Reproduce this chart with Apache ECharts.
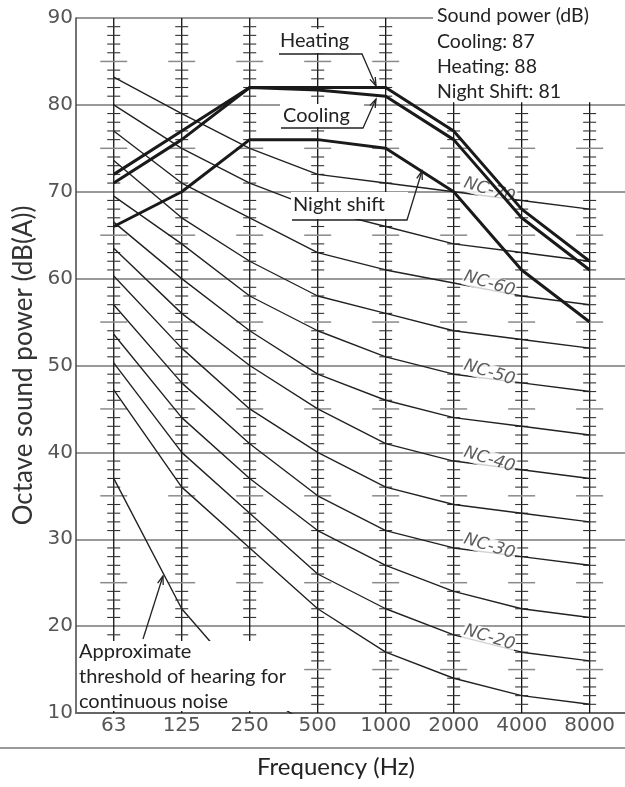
<!DOCTYPE html>
<html>
<head>
<meta charset="utf-8">
<script src="https://cdn.jsdelivr.net/npm/echarts@6.0.0/dist/echarts.min.js"></script>
<style>
  html, body { margin: 0; padding: 0; background: #fff; }
  #chart { width: 625px; height: 787px; }
</style>
</head>
<body>
<div id="chart"></div>
<script>
// octave band centre frequencies (Hz)
var freqLabels = ['63', '125', '250', '500', '1000', '2000', '4000', '8000'];

// NC curves (dB per octave band)
var ncNames = ['NC-70', 'NC-65', 'NC-60', 'NC-55', 'NC-50', 'NC-45', 'NC-40', 'NC-35', 'NC-30', 'NC-25', 'NC-20', 'NC-15'];
var nc70 = [83.2, 79, 75, 72, 71, 70, 69, 68];
var nc65 = [80, 75, 71, 68, 66, 64, 63, 62];
var nc60 = [77, 71, 67, 63, 61, 59.5, 58, 57];
var nc55 = [73.6, 67, 62, 58, 56, 54, 53, 52];
var nc50 = [69.5, 64, 58, 54, 51, 49, 48, 47];
var nc45 = [66.5, 60, 54, 49, 46, 44, 43, 42];
var nc40 = [63.5, 56, 50, 45, 41, 39, 38, 37];
var nc35 = [60.3, 52, 45, 40, 36, 34, 33, 32];
var nc30 = [57, 48, 41, 35, 31, 29, 28, 27];
var nc25 = [53.6, 44, 37, 31, 27, 24, 22, 21];
var nc20 = [50.3, 40, 33, 26, 22, 19, 17, 16];
var nc15 = [47.2, 36, 29, 22, 17, 14, 12, 11];
var ncCurves = [nc70, nc65, nc60, nc55, nc50, nc45, nc40, nc35, nc30, nc25, nc20, nc15];
var ncLabelled = ['NC-70', 'NC-60', 'NC-50', 'NC-40', 'NC-30', 'NC-20'];

// unit sound power spectra
var heating = [72, 77, 82, 82, 82, 77, 68, 62];
var cooling = [71, 76, 82, 81.7, 81, 76, 67, 61];
var nightShift = [66, 70, 76, 76, 75, 70, 61, 55];

// approximate threshold of hearing (63 .. 500 Hz)
var threshold = [37, 22, 13, 8];

var soundPower = ['Sound power (dB)', 'Cooling: 87', 'Heating: 88', 'Night Shift: 81'];

function pairs(arr) {
    return arr.map(function (v, i) { return [i, v]; });
}

var chart = echarts.init(document.getElementById('chart'));

var series = [];

// vertical frequency lines with 1 dB ticks
series.push({
    type: 'custom',
    z: 1,
    silent: true,
    data: freqLabels.map(function (f, i) { return [i, 10]; }),
    renderItem: function (params, api) {
        var i = api.value(0);
        var top = i >= 5 ? 80.3 : 90;
        var p0 = api.coord([i, top]);
        var p1 = api.coord([i, 10]);
        var kids = [{
            type: 'line',
            shape: { x1: p0[0], y1: p0[1], x2: p1[0], y2: p1[1] },
            style: { stroke: '#111', lineWidth: 1.3 }
        }];
        for (var v = 11; v < top; v++) {
            if (v % 10 === 0) continue;
            var y = api.coord([i, v])[1];
            var big = v % 5 === 0;
            var half = big ? 13.5 : 6.5;
            kids.push({
                type: 'line',
                shape: { x1: p0[0] - half, y1: y, x2: p0[0] + half, y2: y },
                style: { stroke: big ? '#8a8a8a' : '#333', lineWidth: big ? 1.5 : 1.1 }
            });
        }
        return { type: 'group', children: kids };
    }
});

ncCurves.forEach(function (c, k) {
    series.push({
        name: ncNames[k],
        type: 'line',
        z: 2,
        silent: true,
        symbol: 'none',
        data: pairs(c),
        lineStyle: { color: '#222', width: 1.4 }
    });
});

series.push({
    name: 'threshold',
    type: 'line',
    z: 2,
    silent: true,
    symbol: 'none',
    data: pairs(threshold),
    lineStyle: { color: '#222', width: 1.4 }
});

// NC labels sitting on the curves between 2000 and 4000 Hz
series.push({
    type: 'scatter',
    z: 3,
    silent: true,
    symbolSize: 1,
    itemStyle: { color: 'rgba(0,0,0,0)' },
    data: ncLabelled.map(function (n) {
        var c = ncCurves[ncNames.indexOf(n)];
        return [5.5, (c[5] + c[6]) / 2, n];
    }),
    label: {
        show: true,
        position: 'inside',
        formatter: function (p) { return p.data[2]; },
        rotate: -17,
        offset: [0, -6],
        backgroundColor: '#fff',
        padding: [0, 1],
        fontFamily: 'DejaVu Sans',
        fontStyle: 'italic',
        fontSize: 17,
        color: '#333'
    }
});

[['Heating', heating], ['Cooling', cooling], ['Night shift', nightShift]].forEach(function (s) {
    series.push({
        name: s[0],
        type: 'line',
        z: 4,
        silent: true,
        symbol: 'none',
        data: pairs(s[1]),
        lineStyle: { color: '#1a1a1a', width: 3 }
    });
});

// annotation helpers
var gfx = [];
function poly(points, w, color) {
    gfx.push({ type: 'polyline', z: 100, shape: { points: points }, style: { stroke: color || '#222', lineWidth: w || 1.3, fill: null } });
}
function box(x, y, w, h) {
    gfx.push({ type: 'rect', z: 99, shape: { x: x, y: y, width: w, height: h }, style: { fill: '#fff' } });
}
function txt(s, x, y, size, align) {
    gfx.push({ type: 'text', z: 101, x: x, y: y, style: { text: s, font: size + 'px Lato', fill: '#222', align: align || 'left', verticalAlign: 'middle' } });
}
function head(fx, fy, tx, ty) {
    var a = Math.atan2(ty - fy, tx - fx), L = 9, s = 0.33;
    poly([[tx - L * Math.cos(a - s), ty - L * Math.sin(a - s)], [tx, ty], [tx - L * Math.cos(a + s), ty - L * Math.sin(a + s)]], 1.3);
}

// sound power block, top right
box(433, 0, 192, 101);
soundPower.forEach(function (s, k) { txt(s, 437, [16, 42, 67, 92][k], 19.5); });

// callouts
box(278, 29, 85, 24);
txt('Heating', 280, 41, 20);
poly([[279, 54], [362, 54], [376, 86]]);
head(362, 54, 376, 86);

box(280, 104, 84, 23);
txt('Cooling', 283, 116, 20);
poly([[281, 128], [363, 128], [376, 99]]);
head(363, 128, 376, 99);

box(291, 192, 117, 27);
txt('Night shift', 293, 205, 20);
poly([[292, 220], [407, 220], [422, 171]]);
head(407, 220, 422, 171);

box(78, 641, 211, 70);
txt('Approximate', 79, 652, 20);
txt('threshold of hearing for', 79, 677, 20);
txt('continuous noise', 79, 702, 20);
poly([[143, 639], [163, 576]]);
head(143, 639, 163, 576);

poly([[0, 748], [625, 748]], 2, '#999');
txt('Frequency (Hz)', 336, 767, 24, 'center');

chart.setOption({
    animation: false,
    grid: { left: 76, right: 0, top: 18, bottom: 74 },
    xAxis: {
        type: 'value',
        min: -0.555,
        max: 7.52,
        splitLine: { show: false },
        axisTick: { show: false },
        axisLine: { onZero: false, lineStyle: { color: '#666', width: 2 } },
        axisLabel: {
            customValues: [0, 1, 2, 3, 4, 5, 6, 7],
            formatter: function (v) { return freqLabels[Math.round(v)]; },
            fontFamily: 'DejaVu Sans',
            fontSize: 20,
            color: '#555',
            margin: 3
        }
    },
    yAxis: {
        type: 'value',
        min: 10,
        max: 90,
        interval: 10,
        name: 'Octave sound power (dB(A))',
        nameLocation: 'middle',
        nameGap: 38,
        nameTextStyle: { fontFamily: 'Lato', fontSize: 26, color: '#333' },
        axisLine: { show: true, onZero: false, lineStyle: { color: '#444', width: 1.5 } },
        axisTick: { show: false },
        splitLine: { lineStyle: { color: '#777', width: 1.5 } },
        axisLabel: { fontFamily: 'DejaVu Sans', fontSize: 20, color: '#555', margin: 3 }
    },
    series: series,
    graphic: gfx
});
</script>
</body>
</html>
